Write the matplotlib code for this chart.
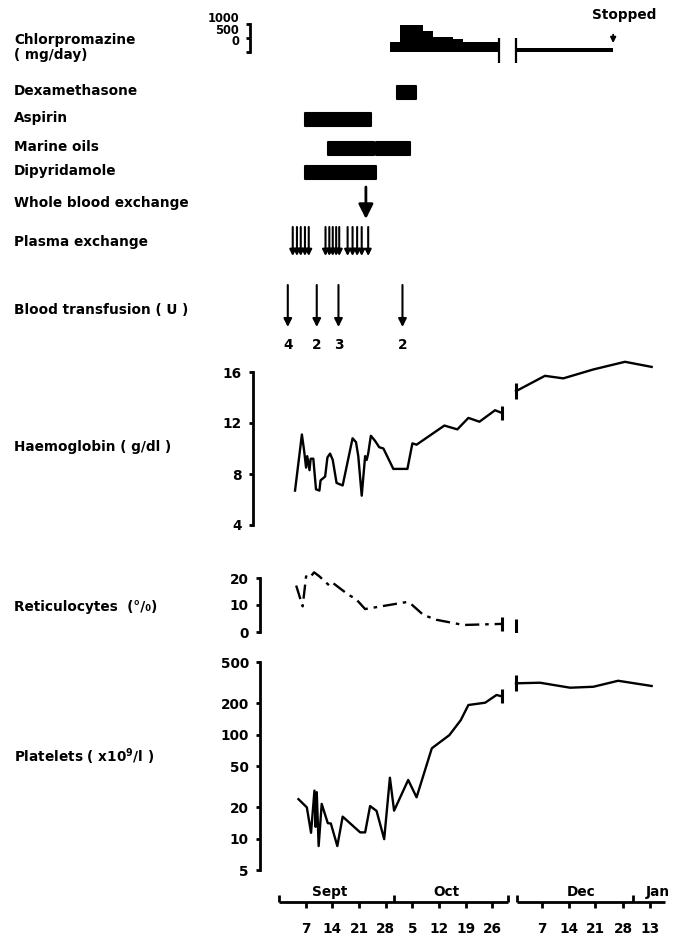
import matplotlib
matplotlib.use('Agg')
import matplotlib.pyplot as plt
from matplotlib.ticker import NullLocator

W, H = 687, 936

# x is a "chart day": Sept d -> d, Oct d -> 30 + d, then the (compressed) Dec/Jan part
# Haemoglobin (g/dl)
hb_days_1 = [4.2, 6.0, 6.6, 7.1, 7.4, 8.0, 8.3, 9.0, 9.7, 10.6, 10.9, 12.1, 12.7, 13.4,
             14.1, 15.1, 16.7, 19.3, 20.2, 20.8, 21.7, 22.6, 23.0, 23.4, 24.1, 25.2,
             26.3, 27.4, 30.0, 33.7, 35.0, 36.1, 43.4, 46.8, 49.7, 52.6, 56.7, 58.4]
hb_vals_1 = [6.7, 11.1, 9.8, 8.5, 9.4, 8.3, 9.2, 9.2, 6.8, 6.7, 7.5, 7.8, 9.3, 9.6,
             9.1, 7.3, 7.1, 10.8, 10.5, 9.4, 6.3, 9.4, 9.1, 9.6, 11.0, 10.6,
             10.1, 10.0, 8.4, 8.4, 10.4, 10.3, 11.8, 11.5, 12.4, 12.1, 13.0, 12.8]
hb_days_2 = [62.2, 69.8, 74.6, 82.5, 90.8, 97.8]
hb_vals_2 = [14.5, 15.7, 15.5, 16.2, 16.8, 16.4]

# Reticulocytes (%)
ret_days_1 = [4.5, 6.2, 7.1, 8.0, 9.2, 10.6, 13.2, 14.1, 18.2, 20.2, 22.6, 33.5,
              34.4, 37.9, 41.4, 48.4, 58.4]
ret_vals_1 = [17.2, 9.5, 20.6, 20.0, 22.1, 20.6, 17.2, 18.2, 13.8, 12.2, 8.5, 11.1,
              10.7, 6.3, 4.5, 2.6, 3.0]
ret_days_2 = [62.2]
ret_vals_2 = [2.4]

# Platelets (x10^9/l)
plt_days_1 = [5.1, 7.3, 8.4, 9.3, 9.6, 9.9, 10.4, 11.2, 12.8, 13.6, 15.3, 16.7,
              21.3, 22.6, 23.9, 25.6, 27.6, 29.1, 30.2, 33.9, 36.1, 40.1, 44.7,
              47.7, 49.7, 54.1, 57.1, 58.6]
plt_vals_1 = [24, 20, 11.4, 29, 13, 28, 8.5, 21.6, 14.1, 14.0, 8.5, 16.3,
              11.5, 11.5, 20.6, 18.5, 9.9, 38.6, 18.6, 36.7, 25, 74, 99,
              138, 193, 203, 241, 233]
plt_days_2 = [62.2, 68.5, 76.4, 82.5, 89.0, 97.8]
plt_vals_2 = [312, 316, 283, 289, 330, 294]

# Chlorpromazine (mg/day), step changes
chlor_days_1 = [29.1, 31.7, 37.8, 40.4, 45.7, 48.3, 57.8]
chlor_dose_1 = [350, 950, 750, 550, 450, 350, 350]
chlor_days_2 = [62.2, 87.7]
chlor_dose_2 = [150, 150]

# treatment periods (start, end)
dexamethasone = [(30.9, 36.0)]
aspirin = [(6.9, 24.2)]
marine_oils = [(12.8, 25.0), (25.4, 34.4)]
dipyridamole = [(6.9, 25.4)]
whole_blood_exchange = [22.8]
plasma_exchange = [3.6, 4.7, 5.7, 6.8, 7.8, 12.2, 13.2, 14.1, 15.0, 15.8,
                   18.0, 19.3, 20.5, 21.7, 23.4]
transfusion_days = [2.3, 9.9, 15.6, 32.4]
transfusion_units = [4, 2, 3, 2]

month_names = ['Sept', 'Oct', 'Dec', 'Jan']
day_ticks = [7, 14, 21, 28, 35, 42, 49, 56, 69, 76, 83, 90.4, 97.4]
day_labels = ['7', '14', '21', '28', '5', '12', '19', '26', '7', '14', '21', '28', '13']


def px2day(p):
    return 7 + (p - 305.7) / 3.81


XLIM = (px2day(0), px2day(W))
FS = 9.8
plt.rcParams['font.family'] = 'DejaVu Sans'
plt.rcParams['font.weight'] = 'bold'

fig = plt.figure(figsize=(W / 100, H / 100), dpi=100)


def panel(top, bottom, spine_px=None):
    ax = fig.add_axes([0, 1 - bottom / H, 1, (bottom - top) / H])
    ax.set_xlim(*XLIM)
    ax.patch.set_alpha(0)
    for s in ('top', 'right', 'bottom'):
        ax.spines[s].set_visible(False)
    ax.set_xticks([])
    if spine_px is None:
        ax.spines['left'].set_visible(False)
        ax.set_yticks([])
    else:
        ax.spines['left'].set_position(('data', px2day(spine_px)))
        ax.spines['left'].set_linewidth(2)
        ax.tick_params(axis='y', length=3, width=2, labelsize=FS, pad=5)
    return ax


def label(y, text):
    fig.text(14 / W, 1 - y / H, text, fontsize=FS, va='center', ha='left')


def series(ax, d1, v1, d2, v2, **kw):
    ax.plot(d1, v1, color='k', lw=1.7, solid_joinstyle='round', clip_on=False, **kw)
    ax.plot(d2, v2, color='k', lw=1.7, solid_joinstyle='round', clip_on=False, **kw)
    # break marks at the ends of the two pieces
    ax.plot([d1[-1]], [v1[-1]], marker='|', ms=10, mew=2.2, color='k', ls='none',
            clip_on=False)
    ax.plot([d2[0]], [v2[0]], marker='|', ms=12, mew=2.2, color='k', ls='none',
            clip_on=False)


# ---- chlorpromazine ----
ax = panel(24, 52, spine_px=250)
ax.set_ylim(0, 1000)
ax.set_yticks([0, 500, 1000])
ax.set_yticklabels([])
ax.fill_between(chlor_days_1, chlor_dose_1, step='post', color='k', lw=0)
ax.fill_between(chlor_days_2, chlor_dose_2, step='post', color='k', lw=0)
ax.vlines([chlor_days_1[-1], chlor_days_2[0]], -400, 500, color='k', lw=1.6, clip_on=False)
for t, yy in zip(['1000', '500', '0'], [1.2, 0.78, 0.36]):
    ax.text(px2day(239), yy, t, transform=ax.get_xaxis_transform(), ha='right',
            va='center', fontsize=8.3)
ax.text(px2day(624), 1330, 'Stopped', ha='center', va='center', fontsize=FS)
ax.annotate('', xy=(chlor_days_2[-1], 220), xytext=(chlor_days_2[-1], 720),
            arrowprops=dict(arrowstyle='-|>', color='k', lw=1.3, mutation_scale=8),
            annotation_clip=False)
label(40, 'Chlorpromazine')
label(55, '( mg/day)')

# ---- treatments / interventions (y in pixel rows) ----
ax = panel(60, 360)
ax.set_ylim(360, 60)
rows = [(92, dexamethasone, 'Dexamethasone'), (119, aspirin, 'Aspirin'),
        (148, marine_oils, 'Marine oils'), (172, dipyridamole, 'Dipyridamole')]
for y, periods, name in rows:
    for a, b in periods:
        ax.barh(y, b - a, left=a, height=13, color='k', edgecolor='k', lw=1.5,
                joinstyle='round')
    label(y - 1, name)

for d in whole_blood_exchange:
    ax.annotate('', xy=(d, 219), xytext=(d, 187),
                arrowprops=dict(arrowstyle='-|>', color='k', lw=2, mutation_scale=22,
                                shrinkA=0, shrinkB=0))
label(203, 'Whole blood exchange')

for d in plasma_exchange:
    ax.annotate('', xy=(d, 256), xytext=(d, 227),
                arrowprops=dict(arrowstyle='-|>', color='k', lw=1.5, mutation_scale=9,
                                shrinkA=0, shrinkB=0))
label(242, 'Plasma exchange')

for d, u in zip(transfusion_days, transfusion_units):
    ax.annotate('', xy=(d, 327), xytext=(d, 285),
                arrowprops=dict(arrowstyle='-|>', color='k', lw=1.5, mutation_scale=12,
                                shrinkA=0, shrinkB=0))
    ax.text(d, 345, str(u), ha='center', va='center', fontsize=FS)
label(310, 'Blood transfusion ( U )')

# ---- haemoglobin ----
ax = panel(372, 525, spine_px=253)
ax.set_ylim(4, 16)
ax.set_yticks([4, 8, 12, 16])
series(ax, hb_days_1, hb_vals_1, hb_days_2, hb_vals_2)
label(447, 'Haemoglobin ( g/dl )')

# ---- reticulocytes ----
ax = panel(578, 632, spine_px=260)
ax.set_ylim(0, 20)
ax.set_yticks([0, 10, 20])
ax.plot(ret_days_1, ret_vals_1, color='k', lw=1.7, ls=(0, (6, 2.5, 1.5, 2.5)),
        clip_on=False)
ax.plot([ret_days_1[-1]], [ret_vals_1[-1]], marker='|', ms=10, mew=2.2, color='k')
ax.plot(ret_days_2, ret_vals_2, marker='|', ms=10, mew=2.2, color='k', ls='none')
label(607, 'Reticulocytes  (°/₀)')

# ---- platelets ----
ax = panel(662, 870, spine_px=260)
ax.set_yscale('log')
ax.set_ylim(5, 500)
ax.set_yticks([5, 10, 20, 50, 100, 200, 500])
ax.set_yticklabels(['5', '10', '20', '50', '100', '200', '500'])
ax.yaxis.set_minor_locator(NullLocator())
series(ax, plt_days_1, plt_vals_1, plt_days_2, plt_vals_2)
label(757, r'Platelets ( x10$^\mathbf{9}$/l )')

# ---- date axis ----
ax = panel(880, 936)
ax.set_ylim(936, 880)
segments = [(0, 60.2), (62.4, 101.3)]
for a, b in segments:
    ax.plot([a, b], [902, 902], color='k', lw=2, solid_capstyle='butt')
ax.vlines([0, 30.2, 60.2, 62.4, 93.0], 895, 902, color='k', lw=2)
ax.vlines(day_ticks, 902, 908, color='k', lw=2)
for t, s in zip(day_ticks, day_labels):
    ax.text(t, 929, s, ha='center', va='center', fontsize=FS)
for m, x in zip(month_names, [13.4, 44.0, 79.4, 99.5]):
    ax.text(x, 892, m, ha='center', va='center', fontsize=FS)

fig.savefig('out.png', dpi=100)
